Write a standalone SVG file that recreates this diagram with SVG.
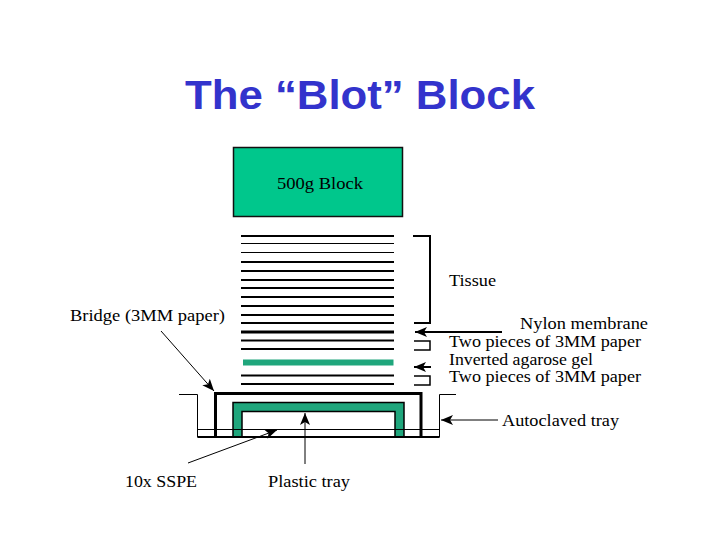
<svg xmlns="http://www.w3.org/2000/svg" width="720" height="540" viewBox="0 0 720 540">
<style>
.t{font-family:"Liberation Serif","Times New Roman",serif;font-size:16px;fill:#000}
.title{font-family:"Liberation Sans",Arial,sans-serif;font-size:40px;font-weight:bold;fill:#3333cc}
.l{stroke:#000;fill:none}
.s1{stroke-width:1}.s15{stroke-width:1.500}.s2{stroke-width:2}.s3{stroke-width:3}
.a{fill:#000;stroke:none}
</style>
<defs>
<marker id="ah" markerUnits="userSpaceOnUse" markerWidth="14" markerHeight="12" refX="12" refY="5" orient="auto"><path class="a" d="M0 0L12 5L0 10L3 5Z"/></marker>
</defs>
<rect width="720" height="540" fill="#fff"/>
<text class="title" x="185" y="109" textLength="350" lengthAdjust="spacingAndGlyphs">The “Blot” Block</text>
<g id="block">
<rect x="233.500" y="147.500" width="169" height="69" fill="#00c78c" stroke="#111" stroke-width="1.500"/>
<text class="t" x="277" y="189" textLength="86" lengthAdjust="spacingAndGlyphs">500g Block</text>
</g>
<g id="tissue-stack" class="l">
<path class="s2" d="M241 236H394"/>
<path class="s1" d="M241 243.500H394M241 252.500H394"/>
<path class="s2" d="M241 262H394M241 271H394M241 280H394M241 288H394M241 297H394M241 306H394M241 315H394M241 323H394"/>
<path class="s3" d="M241 332H394"/>
<path class="s2" d="M241 340.500H394M241 349H394"/>
</g>
<g id="gel"><rect x="243" y="359.500" width="150.500" height="6" fill="#1fa67c"/></g>
<g id="lower-paper" class="l"><path class="s2" d="M241 375.500H394M241 384H394"/></g>
<g id="brackets" class="l">
<path class="s2" d="M413 236H430V323H414"/>
<path class="s15" d="M414 341H430V350H414"/>
<path class="s15" d="M414 376H430V385H414"/>
</g>
<g id="tray">
<path fill="#1fa67c" stroke="#000" stroke-width="1.500" d="M233 437V402.500H404V437H395V411.500H242V437Z"/>
<path class="l s1" d="M179 394.500H197.500V437H439.500V394.500H456"/>
<path class="l s2" d="M197.500 437H439.500"/>
<path class="l s1" d="M197.500 429.500H439.500"/>
<path class="l s3" d="M215.500 437V393.500H421V437"/>
</g>
<g id="connectors" class="l">
<path class="s2" d="M502 332H415" marker-end="url(#ah)"/>
<path class="s2" d="M431 367H414" marker-end="url(#ah)"/>
<path class="s1" d="M498 420H441" marker-end="url(#ah)"/>
<path class="s1" d="M161 331L214 391" marker-end="url(#ah)"/>
<path class="s1" d="M188 463L277 430" marker-end="url(#ah)"/>
<path class="s1" d="M305 464V413" marker-end="url(#ah)"/>
</g>
<g id="labels">
<text class="t" x="70" y="321" textLength="155" lengthAdjust="spacingAndGlyphs">Bridge (3MM paper)</text>
<text class="t" x="449" y="286" textLength="47" lengthAdjust="spacingAndGlyphs">Tissue</text>
<text class="t" x="520" y="329" textLength="128" lengthAdjust="spacingAndGlyphs">Nylon membrane</text>
<text class="t" x="449" y="347" textLength="192" lengthAdjust="spacingAndGlyphs">Two pieces of 3MM paper</text>
<text class="t" x="449" y="364.500" textLength="144" lengthAdjust="spacingAndGlyphs">Inverted agarose gel</text>
<text class="t" x="449" y="382" textLength="192" lengthAdjust="spacingAndGlyphs">Two pieces of 3MM paper</text>
<text class="t" x="502" y="426" textLength="117" lengthAdjust="spacingAndGlyphs">Autoclaved tray</text>
<text class="t" x="125" y="487" textLength="72" lengthAdjust="spacingAndGlyphs">10x SSPE</text>
<text class="t" x="268" y="487" textLength="82" lengthAdjust="spacingAndGlyphs">Plastic tray</text>
</g>
</svg>
